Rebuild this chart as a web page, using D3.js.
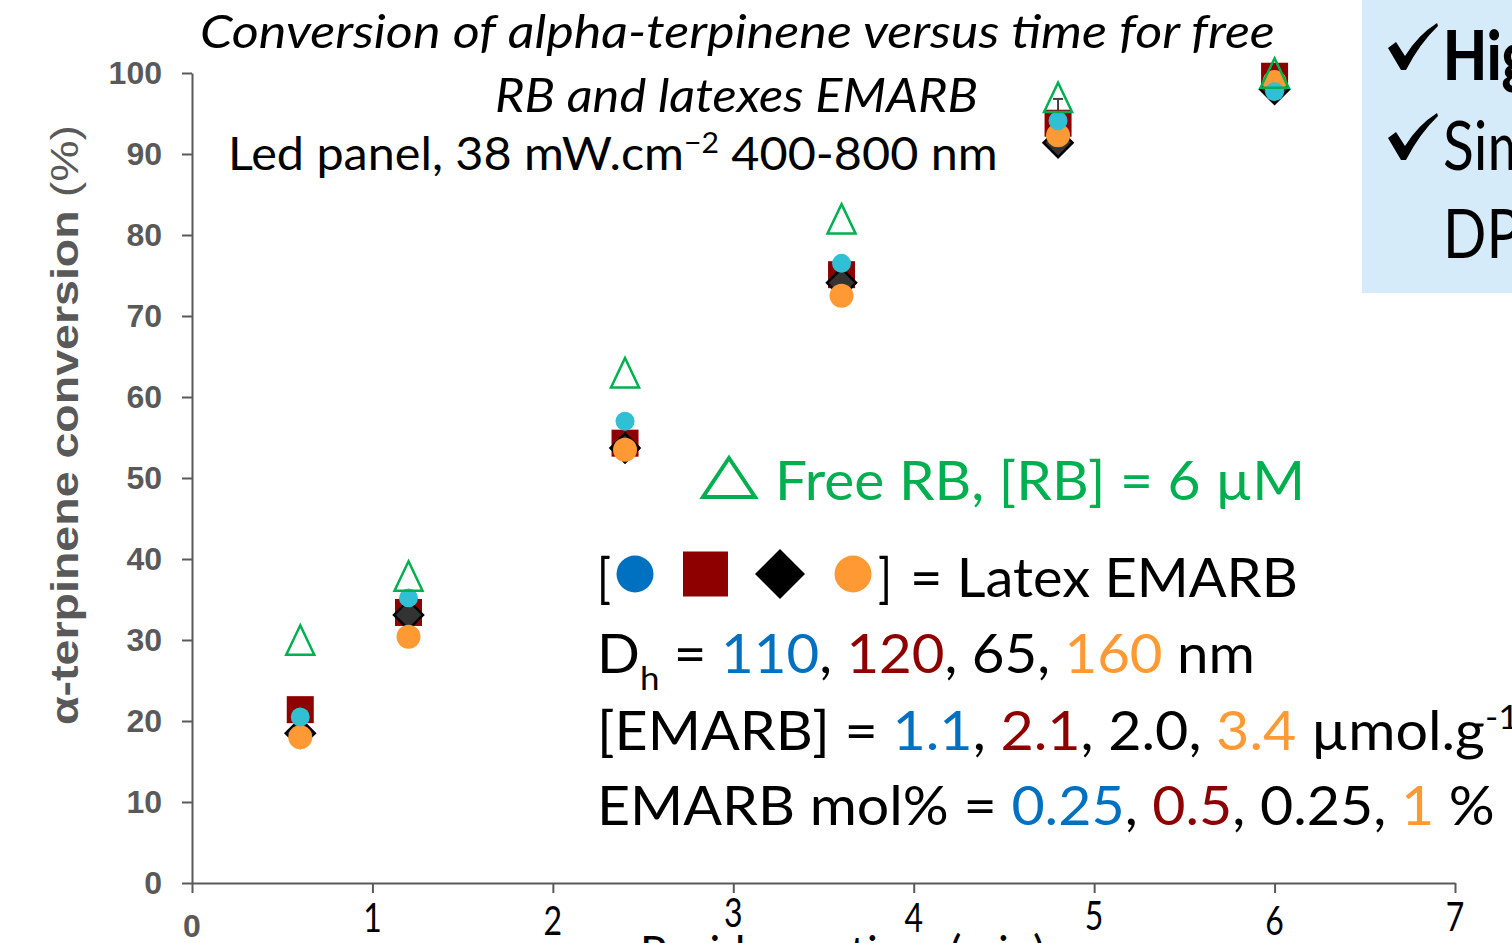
<!DOCTYPE html>
<html>
<head>
<meta charset="utf-8">
<script src="https://cdn.jsdelivr.net/npm/d3@7"></script>
<style>
  body { margin: 0; background: #fff; overflow: hidden; }
  svg { display: block; }
</style>
</head>
<body>
<svg width="1512" height="943"></svg>
<script>
// data
var times = [0.6, 1.2, 2.4, 3.6, 4.8, 6.0];
var freeRB = [30.0, 37.9, 63.0, 82.0, 97.0, 100.0];
var latexSquare = [21.4, 33.4, 54.3, 75.1, 93.8, 99.6];
var latexDiamond = [18.5, 33.1, 53.7, 74.1, 91.4, 98.0];
var latexOrange = [18.0, 30.4, 53.5, 72.5, 92.3, 98.9];
var latexCyan = [20.5, 35.2, 57.0, 76.5, 94.1, 97.7];
var squareError = [0, 0, 0, 0, 3.0, 0];

var yTicks = [0, 10, 20, 30, 40, 50, 60, 70, 80, 90, 100];
var xTicks = [0, 1, 2, 3, 4, 5, 6, 7];

var titleLines = ["Conversion of alpha-terpinene versus time for free", "RB and latexes EMARB"];
var yTitle = "\u03B1-terpinene conversion";
var yUnit = " (%)";
var xTitle = "Residence time (min)";
var boxLines = ["Highly", "Simple", "DP"];

var blue = "#0070C0", red = "#8E0000", orange = "#FF9933", green = "#00B050",
    cyan = "#31BFD3", axisGrey = "#595959";

function init()
{
    var svg = d3.select("svg"),
        margin = {top: 73, left: 192},
        width = 1263,
        height = 810;

    var x = d3.scaleLinear().domain([0, 7]).range([0, width]),
        y = d3.scaleLinear().domain([0, 100]).range([height, 0]);

    // custom marker shapes for d3.symbol
    var diamond = { draw: function(ctx, size) {
        var r = Math.sqrt(size) / 2;
        ctx.moveTo(0, -r); ctx.lineTo(r, 0); ctx.lineTo(0, r); ctx.lineTo(-r, 0); ctx.closePath();
    }};
    function triangle(aspect) {
        return { draw: function(ctx, size) {
            var w = Math.sqrt(size), h = w * aspect;
            ctx.moveTo(0, -h / 2); ctx.lineTo(w / 2, h / 2); ctx.lineTo(-w / 2, h / 2); ctx.closePath();
        }};
    }

    // blue box on the right
    svg.append("rect")
        .attr("x", 1362).attr("y", 0)
        .attr("width", 150).attr("height", 293)
        .attr("fill", "#D6EBF9");

    var boxY = [80, 170, 258];
    boxLines.forEach(function(t, i) {
        if (i < 2) {
            // heavy tick mark like the wingdings one
            svg.append("path")
                .attr("transform", "translate(1388," + (boxY[i] - 57) + ")")
                .attr("d", "M0,25 L8,19 L17,33 Q30,12 49,0 L50,3 Q32,20 18,47 L13,47 Z")
                .attr("fill", "#000");
        }
        svg.append("text")
            .attr("transform", "translate(1443," + boxY[i] + ") scale(0.84,1)")
            .style("font-family", "Lato")
            .style("font-size", "68px")
            .style("font-weight", i == 0 ? "900" : "normal")
            .text(t);
    });

    // rich text helper: parts are [text, colour, "sub"|"sup"]
    function rich(parent, parts, size) {
        var t = parent.append("text").style("font-family", "Lato").style("font-size", size + "px");
        var shift = 0;
        parts.forEach(function(p) {
            var ts = t.append("tspan").text(p[0]).attr("fill", p[1] || "#000");
            var want = p[2] == "sub" ? size * 0.32 : p[2] == "sup" ? -size * 0.38 : 0;
            if (want != shift) { ts.attr("dy", want - shift); shift = want; }
            if (p[2]) ts.style("font-size", (size * 0.62) + "px");
        });
        return t;
    }
    function fit(sel, x0, y0, w) {
        var bw = sel.node().getBBox().width;
        sel.attr("transform", "translate(" + x0 + "," + y0 + ") scale(" + (w / bw) + ",1)");
    }

    // titles
    fit(rich(svg, [[titleLines[0]]], 46).style("font-style", "italic"), 200, 48, 1075);
    fit(rich(svg, [[titleLines[1]]], 46).style("font-style", "italic"), 495, 112, 483);
    fit(rich(svg, [["Led panel, 38 mW.cm"], ["\u22122", null, "sup"], [" 400-800 nm"]], 46), 228, 170, 770);

    var g = svg.append("g").attr("transform", "translate(" + margin.left + "," + margin.top + ")");

    // axes
    var yAxis = g.append("g")
        .call(d3.axisLeft(y).tickValues(yTicks).tickSize(10).tickSizeOuter(0).tickPadding(20));
    yAxis.selectAll("text")
        .style("font-family", "'Liberation Sans', Arial")
        .style("font-weight", "bold")
        .style("font-size", "32px")
        .attr("fill", axisGrey);

    var xAxis = g.append("g")
        .attr("transform", "translate(0," + height + ")")
        .call(d3.axisBottom(x).tickValues(xTicks).tickSize(10).tickSizeOuter(0).tickFormat(""));

    svg.selectAll(".domain, .tick line").attr("stroke", axisGrey).attr("stroke-width", 2);

    // x labels were placed one by one in the original, so they wobble a bit
    var xLabelCentre = [43, 35, 38, 30, 35, 33, 38, 34];
    xTicks.forEach(function(d, i) {
        var t = g.append("text")
            .attr("text-anchor", "middle")
            .text(d);
        if (d == 0) {
            t.attr("x", x(d)).attr("y", height + xLabelCentre[i] + 11)
                .style("font-family", "'Liberation Sans', Arial")
                .style("font-weight", "bold").style("font-size", "32px")
                .attr("fill", axisGrey);
        } else {
            t.attr("transform", "translate(" + x(d) + "," + (height + xLabelCentre[i] + 14) + ") scale(0.8,1)")
                .style("font-family", "Lato").style("font-size", "40px")
                .attr("fill", "#000");
        }
    });

    // axis titles
    var yt = svg.append("text")
        .attr("text-anchor", "middle")
        .attr("transform", "translate(78,425) rotate(-90)")
        .style("font-family", "'Liberation Sans', Arial")
        .style("font-size", "38px")
        .attr("fill", axisGrey);
    yt.append("tspan").style("font-weight", "bold").text(yTitle);
    yt.append("tspan").text(yUnit);
    yt.attr("textLength", 600).attr("lengthAdjust", "spacingAndGlyphs");

    var xt = rich(svg, [[xTitle]], 46).attr("fill", "#000");
    fit(xt, 640, 969, 405);

    // error bar
    var err = g.append("g").selectAll("g")
        .data(times.map(function(t, i) { return {t: t, v: latexSquare[i], e: squareError[i]}; })
            .filter(function(d) { return d.e > 0; }))
        .enter().append("g")
        .attr("stroke", "#404040").attr("stroke-width", 2);
    err.append("line")
        .attr("x1", function(d) { return x(d.t); }).attr("x2", function(d) { return x(d.t); })
        .attr("y1", function(d) { return y(d.v - d.e); }).attr("y2", function(d) { return y(d.v + d.e); });
    err.append("line")
        .attr("x1", function(d) { return x(d.t) - 5; }).attr("x2", function(d) { return x(d.t) + 5; })
        .attr("y1", function(d) { return y(d.v + d.e); }).attr("y2", function(d) { return y(d.v + d.e); });

    // markers, back to front
    var series = [
        {values: latexSquare, type: d3.symbolSquare, size: 729, fill: red},
        {values: latexDiamond, type: diamond, size: 841, fill: "#333", stroke: "#000", sw: 2.5},
        {values: latexOrange, type: d3.symbolCircle, size: Math.PI * 144, fill: orange},
        {values: latexCyan, type: d3.symbolCircle, size: Math.PI * 90, fill: cyan},
        {values: freeRB, type: triangle(1.05), size: 784, fill: "none", stroke: green, sw: 2.5}
    ];
    series.forEach(function(s) {
        g.append("g").selectAll("path")
            .data(times.map(function(t, i) { return {t: t, v: s.values[i]}; }))
            .enter().append("path")
            .attr("transform", function(d) { return "translate(" + x(d.t) + "," + y(d.v) + ")"; })
            .attr("d", d3.symbol().type(s.type).size(s.size))
            .attr("fill", s.fill)
            .attr("stroke", s.stroke || "none")
            .attr("stroke-width", s.sw || 0);
    });

    // legend text block
    svg.append("path")
        .attr("transform", "translate(729,477.5)")
        .attr("d", d3.symbol().type(triangle(0.75)).size(52 * 52))
        .attr("fill", "none").attr("stroke", green).attr("stroke-width", 4);
    fit(rich(svg, [["Free RB, [RB] = 6 \u00B5M", green]], 54), 775, 500, 530);

    fit(rich(svg, [["["]], 54), 597, 597, 14);
    var keys = [
        {x: 635, type: d3.symbolCircle, size: Math.PI * 18.5 * 18.5, fill: blue},
        {x: 705.5, type: d3.symbolSquare, size: 45 * 45, fill: red},
        {x: 780, type: diamond, size: 2500, fill: "#000"},
        {x: 853, type: d3.symbolCircle, size: Math.PI * 18.5 * 18.5, fill: orange}
    ];
    svg.append("g").selectAll("path").data(keys).enter().append("path")
        .attr("transform", function(d) { return "translate(" + d.x + ",574)"; })
        .attr("d", function(d) { return d3.symbol().type(d.type).size(d.size)(); })
        .attr("fill", function(d) { return d.fill; });
    fit(rich(svg, [["]"]], 54), 878, 597, 14);
    fit(rich(svg, [["= Latex EMARB"]], 54), 910, 597, 388);

    fit(rich(svg, [["D"], ["h", null, "sub"], [" = "], ["110", blue], [", "], ["120", red],
        [", 65, "], ["160", orange], [" nm"]], 54), 597, 673, 658);
    fit(rich(svg, [["[EMARB] = "], ["1.1", blue], [", "], ["2.1", red], [", 2.0, "], ["3.4", orange],
        [" \u00B5mol.g"], ["-1", null, "sup"]], 54), 597, 750, 922);
    fit(rich(svg, [["EMARB mol% = "], ["0.25", blue], [", "], ["0.5", red], [", 0.25, "],
        ["1", orange], [" %"]], 54), 597, 825, 898);
}

document.fonts.ready.then(init);
</script>
</body>
</html>
